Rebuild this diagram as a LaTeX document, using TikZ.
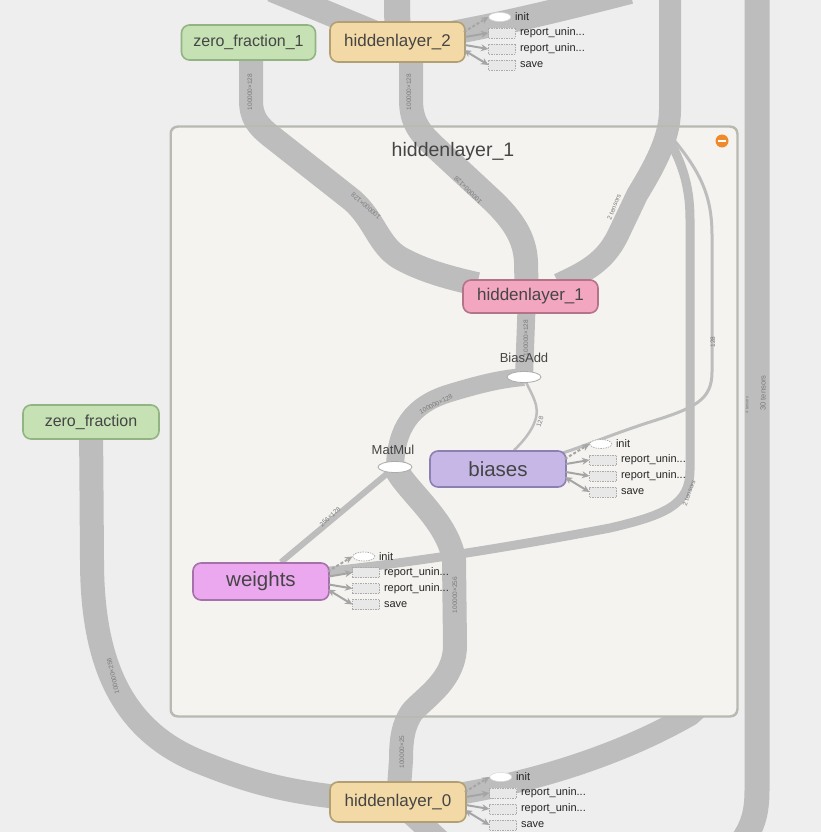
\documentclass[tikz,border=0pt]{standalone}
\usepackage{fontspec}
\setmainfont{Liberation Sans}
\usetikzlibrary{arrows.meta,shapes.geometric,calc}
\definecolor{bgc}{HTML}{EEEEEE}
\definecolor{grpf}{HTML}{F4F3EF}
\definecolor{grpd}{HTML}{B9B9B1}
\definecolor{edgec}{HTML}{BDBDBD}
\definecolor{labc}{HTML}{7A7A7A}
\definecolor{txtc}{HTML}{454545}
\definecolor{tanf}{HTML}{F2D9A6}
\definecolor{tand}{HTML}{B29F74}
\definecolor{grnf}{HTML}{C6E2B5}
\definecolor{grnd}{HTML}{92B483}
\definecolor{pnkf}{HTML}{F3A6BF}
\definecolor{pnkd}{HTML}{B37489}
\definecolor{purf}{HTML}{C6B7E6}
\definecolor{purd}{HTML}{8C80B3}
\definecolor{vioF}{HTML}{EBA8EF}
\definecolor{vioD}{HTML}{A571AA}
\definecolor{auxa}{HTML}{A5A5A5}
\definecolor{auxbf}{HTML}{E8E8E8}
\definecolor{auxbd}{HTML}{ABABAB}
\definecolor{orng}{HTML}{F0892A}
\pgfdeclarelayer{ext}
\pgfdeclarelayer{grp}
\pgfdeclarelayer{inner}
\pgfsetlayers{ext,grp,inner,main}
\tikzset{
  gnode/.style={draw, rounded corners=8pt, line width=1.6pt, inner sep=0pt, text=txtc,
    font=\fontsize{17}{17}\selectfont},
  tannode/.style={gnode, fill=tanf, draw=tand, minimum width=135pt, minimum height=40pt},
  grnnode/.style={gnode, fill=grnf, draw=grnd, minimum width=134pt, minimum height=35pt, font=\fontsize{16}{16}\selectfont},
  pnknode/.style={gnode, fill=pnkf, draw=pnkd, minimum width=135pt, minimum height=33pt},
  purnode/.style={gnode, fill=purf, draw=purd, minimum width=136pt, minimum height=36pt, font=\fontsize{20.5}{20.5}\selectfont},
  vionode/.style={gnode, fill=vioF, draw=vioD, minimum width=136pt, minimum height=37pt, font=\fontsize{20.5}{20.5}\selectfont},
  opnode/.style={ellipse, draw=auxbd, line width=0.8pt, fill=white, minimum width=34pt, minimum height=11pt, inner sep=0pt},
  oplab/.style={font=\fontsize{13}{13}\selectfont, text=txtc, inner sep=0pt},
  band/.style={draw=edgec, line width=#1, line cap=butt, line join=round},
  elab/.style={font=\fontsize{6.5}{6.5}\selectfont, text=labc, inner sep=0pt},
  auxtxt/.style={font=\fontsize{11}{11}\selectfont, text=black!85, inner sep=0pt, anchor=west},
  auxbox/.style={draw=auxbd, dash pattern=on 1.5pt off 1pt, line width=0.7pt, fill=auxbf, minimum width=27pt, minimum height=10pt, inner sep=0pt},
  initsolid/.style={ellipse, fill=white, draw=white!85!black, line width=0.5pt, minimum width=22pt, minimum height=9pt, inner sep=0pt},
  initdash/.style={ellipse, fill=white, draw=auxbd, dash pattern=on 1.5pt off 1pt, line width=0.7pt, minimum width=22pt, minimum height=9pt, inner sep=0pt},
  auxarr/.style={draw=auxa, line width=2pt, -{Stealth[length=7.5pt,width=7pt]}},
  auxarr2/.style={draw=auxa, line width=2pt, {Stealth[length=7.5pt,width=7pt]}-{Stealth[length=7.5pt,width=7pt]}},
}
\newcommand{\auxfor}[3]{%
  \node[#3] (#2i) at ($(#1.east)+(34,-25)$) {};
  \node[auxtxt] (#2it) at ($(#1.east)+(49,-25)$) {init};
  \node[auxbox] (#2r) at ($(#1.east)+(36.5,-9)$) {};
  \node[auxtxt] (#2rt) at ($(#1.east)+(54,-9)$) {report\_unin...};
  \node[auxbox] (#2q) at ($(#1.east)+(36.5,7)$) {};
  \node[auxtxt] (#2qt) at ($(#1.east)+(54,7)$) {report\_unin...};
  \node[auxbox] (#2s) at ($(#1.east)+(36.5,23)$) {};
  \node[auxtxt] (#2st) at ($(#1.east)+(54,23)$) {save};
  \draw[auxarr,dash pattern=on 3pt off 2pt] ($(#1.east)+(-2,-10)$) -- (#2i.west);
  \draw[auxarr] ($(#1.east)+(-1,-5)$) -- (#2r.west);
  \draw[auxarr] ($(#1.east)+(-1,3)$) -- (#2q.west);
  \draw[auxarr2] ($(#1.east)+(-2,8)$) -- (#2s.west);
}
\begin{document}
\begin{tikzpicture}[x=1pt,y=-1pt]
\useasboundingbox (0,0) rectangle (821,832);
\begin{pgfonlayer}{ext}
  \fill[bgc] (0,0) rectangle (821,832);
\end{pgfonlayer}
\begin{pgfonlayer}{grp}
  \node[draw=grpd, fill=grpf, line width=1.5pt, rounded corners=7pt, minimum width=566pt, minimum height=589pt, inner sep=0pt] (grp) at (454,421.5) {};
\end{pgfonlayer}

% nodes
\node[grnnode] (zf1) at (248.5,42.5) {zero\_fraction\_1};
\node[tannode] (hl2) at (397.5,42) {hiddenlayer\_2};
\node[pnknode] (hl1) at (530.5,296.5) {hiddenlayer\_1};
\node[opnode] (ba) at (524,377) {};
\node[oplab] (bal) at (524,358) {BiasAdd};
\node[opnode] (mm) at (395,467) {};
\node[oplab] (mml) at (393,450) {MatMul};
\node[purnode] (bi) at (498,469) {biases};
\node[vionode] (we) at (261,581.5) {weights};
\node[grnnode, minimum width=136pt, minimum height=34pt] (zf) at (91,422) {zero\_fraction};
\node[tannode, minimum width=136pt] (hl0) at (398,802) {hiddenlayer\_0};
\node[font=\fontsize{19.5}{19.5}\selectfont, text=txtc, inner sep=0pt] (gl) at (453,151) {hiddenlayer\_1};
\node[circle, fill=orng, minimum size=13pt, inner sep=0pt] (col) at (722,141) {};
\draw[white, line width=2.2pt] ($(col.center)+(-4,0)$) -- ($(col.center)+(4,0)$);

% external edges
\begin{pgfonlayer}{ext}
  \draw[band=25pt] (757,-5) -- (757,790) .. controls (757,815) and (752,828) .. (740,845);
  \draw[band=22pt] (hl0.center) .. controls (520,790) and (620,755) .. (690,715) -- (728,680);
  \draw[band=22pt] (hl0.center) -- (445,845);
  \draw[band=24pt] (zf.center) -- (92,560) .. controls (92,660) and (120,730) .. (200,762) .. controls (260,786) and (300,796) .. (hl0.center);
  \draw[band=24pt] (272,-10) -- (hl2.center);
  \draw[band=26pt] (397,-5) -- (hl2.center);
  \draw[band=24pt] (hl2.center) .. controls (480,30) and (560,10) .. (630,-8);
\end{pgfonlayer}

% internal edges
\begin{pgfonlayer}{inner}
  \draw[band=24pt] ($(zf1.south)+(2.5,-3)$) -- (251,100) .. controls (251,118) and (258,126) .. (272,137) -- (352,200) .. controls (375,220) and (378,245) .. (400,258) .. controls (425,272) and (455,279) .. ($(hl1.north west)+(15,5)$);
  \draw[band=24pt] ($(hl2.south)+(13.5,-3)$) -- (411,100) .. controls (411,122) and (420,133) .. (435,147) -- (492,200) .. controls (513,220) and (525,238) .. (526,262) -- ($(hl1.north)+(-4,5)$);
  \draw[band=22pt] (670,-5) -- (670,110) .. controls (670,140) and (652,170) .. (637,195) -- (618,235) .. controls (605,262) and (585,272) .. ($(hl1.north east)+(-40,5)$);
  \draw[band=9pt] (662,128) .. controls (682,160) and (690,185) .. (690,220) -- (690,470) .. controls (690,505) and (665,515) .. (610,528) .. controls (520,545) and (420,562) .. ($(we.east)+(-5,-10)$);
  \draw[band=3pt] (668,133) .. controls (700,170) and (712,195) .. (712,235) -- (712,372) .. controls (712,400) and (695,408) .. (650,422) .. controls (610,435) and (585,446) .. ($(bi.north east)+(-5,3)$);
  \draw[band=18pt] ($(hl1.south)+(-4,-5)$) -- (ba.center);
  \draw[band=18pt] (mm.center) .. controls (396,430) and (410,405) .. (450,393) .. controls (480,384) and (500,379) .. (ba.center);
  \draw[band=2.5pt] ($(bi.north)+(16,0)$) .. controls (528,437) and (540,420) .. (536,405) .. controls (533,394) and (528,388) .. (ba.center);
  \draw[band=6pt] ($(we.north)+(20,0)$) -- (mm.center);
  \draw[band=24pt] (mm.center) .. controls (405,490) and (448,520) .. (454,560) -- (455,645) .. controls (455,680) and (425,697) .. (412,712) .. controls (403,725) and (401,740) .. (401,760) -- (hl0.center);
  % group border redrawn over crossing edges
  \draw[draw=grpd, line width=1.5pt, rounded corners=7pt] (grp.north west) rectangle (grp.south east);
\end{pgfonlayer}

% edge labels
\node[elab, rotate=90] (la1) at (250,92) {100000×128};
\node[elab, rotate=139] (la2) at (366,206) {100000×128};
\node[elab, rotate=90] (lb1) at (409,92) {100000×128};
\node[elab, rotate=135] (lb2) at (468,190) {100000×128};
\node[elab, rotate=68] (lc) at (614,207) {2 tensors};
\node[elab, rotate=70] (le) at (689,493) {2 tensors};
\node[elab, rotate=90] (lf) at (713,342) {128};
\node[elab, rotate=90] (lg) at (526,338) {100000×128};
\node[elab, rotate=27] (lh) at (436,404) {100000×128};
\node[elab, rotate=72] (li) at (540,422) {128};
\node[elab, rotate=42] (lj) at (330,517) {256×128};
\node[elab, rotate=90] (lk1) at (455,595) {100000×256};
\node[elab, rotate=90] (lk2) at (402,752) {100000×25};
\node[elab, rotate=103] (ll) at (113,676) {100000×256};
\node[elab, rotate=90, font=\fontsize{7.5}{7.5}\selectfont] (lt30) at (763,393) {30 tensors};
\node[elab, rotate=90, font=\fontsize{4}{4}\selectfont] (lt4) at (747,405) {4 tensors};

% auxiliary items
\auxfor{hl2}{ah}{initsolid}
\auxfor{bi}{ab}{initdash}
\auxfor{we}{aw}{initdash}
\auxfor{hl0}{az}{initsolid}
\end{tikzpicture}
\end{document}
